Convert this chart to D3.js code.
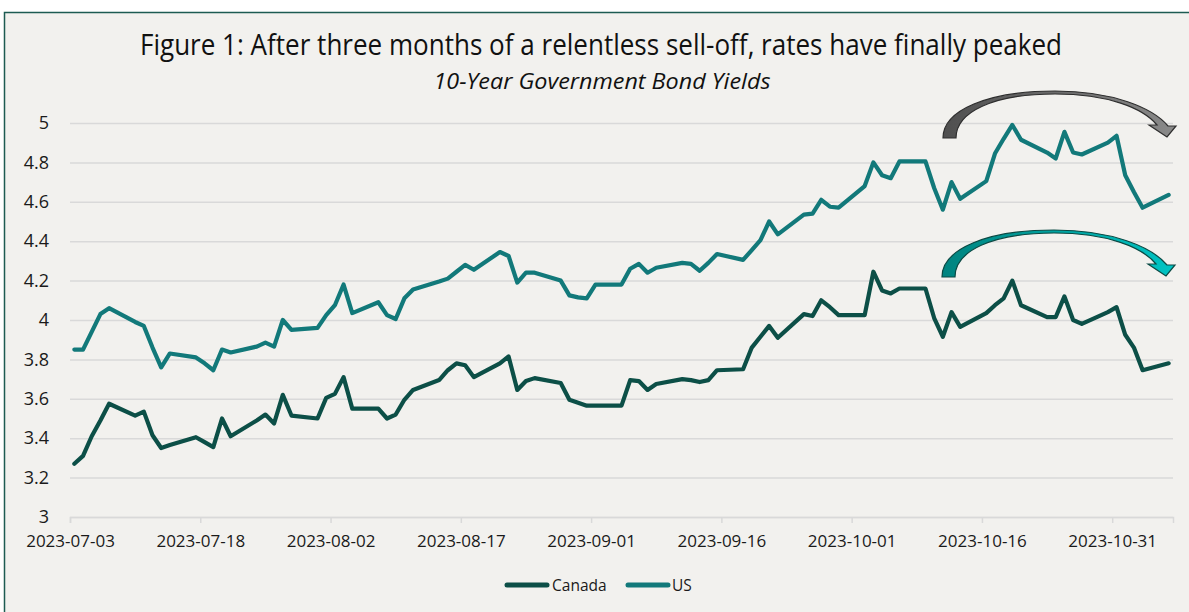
<!DOCTYPE html>
<html>
<head>
<meta charset="utf-8">
<script src="https://cdn.jsdelivr.net/npm/d3@7"></script>
<style>
  html, body { margin: 0; padding: 0; background: #ffffff; }
  svg { display: block; }
  text { font-family: "Open Sans", "Liberation Sans", sans-serif; }
</style>
</head>
<body>
<svg id="chart" width="1189" height="612"></svg>
<script>
// ---------- data ----------
const dates = [
  "2023-07-03","2023-07-04","2023-07-05","2023-07-06","2023-07-07",
  "2023-07-10","2023-07-11","2023-07-12","2023-07-13","2023-07-14",
  "2023-07-17","2023-07-18","2023-07-19","2023-07-20","2023-07-21",
  "2023-07-24","2023-07-25","2023-07-26","2023-07-27","2023-07-28",
  "2023-07-31","2023-08-01","2023-08-02","2023-08-03","2023-08-04",
  "2023-08-07","2023-08-08","2023-08-09","2023-08-10","2023-08-11",
  "2023-08-14","2023-08-15","2023-08-16","2023-08-17","2023-08-18",
  "2023-08-21","2023-08-22","2023-08-23","2023-08-24","2023-08-25",
  "2023-08-28","2023-08-29","2023-08-30","2023-08-31","2023-09-01",
  "2023-09-04","2023-09-05","2023-09-06","2023-09-07","2023-09-08",
  "2023-09-11","2023-09-12","2023-09-13","2023-09-14","2023-09-15",
  "2023-09-18","2023-09-19","2023-09-20","2023-09-21","2023-09-22",
  "2023-09-25","2023-09-26","2023-09-27","2023-09-28","2023-09-29",
  "2023-10-02","2023-10-03","2023-10-04","2023-10-05","2023-10-06",
  "2023-10-09","2023-10-10","2023-10-11","2023-10-12","2023-10-13",
  "2023-10-16","2023-10-17","2023-10-18","2023-10-19","2023-10-20",
  "2023-10-23","2023-10-24","2023-10-25","2023-10-26","2023-10-27",
  "2023-10-30","2023-10-31","2023-11-01","2023-11-02","2023-11-03",
  "2023-11-06"
];
const canada = [
  3.27, 3.31, 3.41, 3.49, 3.575,
  3.515, 3.535, 3.415, 3.35, 3.365,
  3.405, 3.38, 3.355, 3.50, 3.41,
  3.49, 3.52, 3.475, 3.62, 3.515,
  3.50, 3.605, 3.625, 3.71, 3.55,
  3.55, 3.50, 3.52, 3.595, 3.645,
  3.695, 3.745, 3.78, 3.77, 3.71,
  3.78, 3.815, 3.645, 3.69, 3.705,
  3.68, 3.595, 3.58, 3.565, 3.565,
  3.565, 3.695, 3.69, 3.645, 3.675,
  3.70, 3.695, 3.685, 3.695, 3.745,
  3.75, 3.86, 3.915, 3.97, 3.91,
  4.03, 4.02, 4.10, 4.065, 4.025,
  4.025, 4.245, 4.15, 4.135, 4.16,
  4.16, 4.01, 3.915, 4.04, 3.965,
  4.035, 4.075, 4.11, 4.20, 4.075,
  4.015, 4.015, 4.12, 4.00, 3.98,
  4.04, 4.065, 3.925, 3.86, 3.745,
  3.78
];
const us = [
  3.85, 3.85, 3.94, 4.03, 4.06,
  3.99, 3.97, 3.86, 3.76, 3.83,
  3.81, 3.78, 3.745, 3.85, 3.835,
  3.865, 3.885, 3.865, 4.00, 3.95,
  3.96, 4.025, 4.075, 4.18, 4.035,
  4.09, 4.025, 4.005, 4.11, 4.155,
  4.195, 4.21, 4.245, 4.28, 4.255,
  4.345, 4.325, 4.19, 4.24, 4.24,
  4.20, 4.125, 4.115, 4.11, 4.18,
  4.18, 4.26, 4.285, 4.24, 4.265,
  4.29, 4.285, 4.25, 4.29, 4.335,
  4.305, 4.355, 4.405, 4.50, 4.435,
  4.535, 4.54, 4.61, 4.575, 4.57,
  4.68, 4.80, 4.735, 4.72, 4.805,
  4.805, 4.67, 4.56, 4.70, 4.615,
  4.705, 4.845, 4.92, 4.99, 4.915,
  4.85, 4.82, 4.955, 4.85, 4.84,
  4.90, 4.935, 4.735, 4.65, 4.57,
  4.635
];
const xTickLabels = ["2023-07-03","2023-07-18","2023-08-02","2023-08-17","2023-09-01","2023-09-16","2023-10-01","2023-10-16","2023-10-31"];
const yTicks = [3, 3.2, 3.4, 3.6, 3.8, 4, 4.2, 4.4, 4.6, 4.8, 5];
const seriesNames = ["Canada", "US"];
const seriesColors = ["#0c4f47", "#12797a"];
const titleText = "Figure 1: After three months of a relentless sell-off, rates have finally peaked";
const subtitleText = "10-Year Government Bond Yields";

// ---------- layout ----------
const svg = d3.select("#chart");
const parse = d3.utcParse("%Y-%m-%d");
const fmt = d3.utcFormat("%Y-%m-%d");
const plotL = 70, plotR = 1173, plotT = 123, plotB = 517;

// frame
svg.append("rect").attr("x", 0).attr("y", 0).attr("width", 1189).attr("height", 612).attr("fill", "#ffffff");
svg.append("rect").attr("x", 4.5).attr("y", 12.5).attr("width", 1200).attr("height", 700)
  .attr("fill", "#f2f1ee").attr("stroke", "#1d5b52").attr("stroke-width", 1.5);

// scales: Excel date axis with points between tick marks (slot centres)
const x = d3.scaleUtc()
  .domain([parse("2023-07-03"), d3.utcDay.offset(parse(dates[dates.length - 1]), 1)])
  .range([plotL, plotR]);
const y = d3.scaleLinear().domain([3, 5]).range([plotB, plotT]);
const px = s => x(d3.utcHour.offset(parse(s), 12));

// gridlines / y axis
const yAxis = d3.axisLeft(y).tickValues(yTicks).tickSize(-(plotR - plotL)).tickPadding(21)
  .tickFormat(d3.format("~g"));
const gy = svg.append("g").attr("transform", `translate(${plotL},0)`).call(yAxis);
gy.select(".domain").remove();
gy.selectAll(".tick line").attr("stroke", "#d9d9d9").attr("stroke-width", 1.5);
gy.selectAll(".tick text").attr("fill", "#1a1a1a").style("font-size", "18px");

// x axis
const xAxis = d3.axisBottom(x).tickValues(xTickLabels.map(parse)).tickFormat(fmt)
  .tickSize(6).tickPadding(12);
const gx = svg.append("g").attr("transform", `translate(0,${plotB})`).call(xAxis);
gx.select(".domain").attr("stroke", "#d9d9d9").attr("stroke-width", 1.5);
gx.selectAll(".tick line").attr("stroke", "#d9d9d9").attr("stroke-width", 1.5);
gx.selectAll(".tick text").attr("fill", "#1a1a1a").style("font-size", "17px");

// lines
const line = d3.line().x(d => px(d.date)).y(d => y(d.v));
[canada, us].forEach((vals, i) => {
  const pts = dates.map((d, j) => ({ date: d, v: vals[j] }));
  svg.append("path").datum(pts).attr("d", line)
    .attr("fill", "none").attr("stroke", seriesColors[i]).attr("stroke-width", 4.2)
    .attr("stroke-linejoin", "round").attr("stroke-linecap", "round");
});

// curved arrows
const defs = svg.append("defs");
function grad(id, c1, c2) {
  const g = defs.append("linearGradient").attr("id", id).attr("x1", "0%").attr("x2", "100%").attr("y1", "0%").attr("y2", "0%");
  g.append("stop").attr("offset", "0%").attr("stop-color", c1);
  g.append("stop").attr("offset", "100%").attr("stop-color", c2);
}
grad("gGray", "#4f4f4f", "#8a8a8a");
grad("gTeal", "#00837f", "#00c4c4");
const arrowPath = "M0,0 C0,-28 45,-47 112,-47 C170,-47 210,-30 225,-12 L233,-12 L224,-1 L206,-13 L214,-13 C200,-30 165,-44 112,-44 C50,-44 13,-26 13,0 Z";
svg.append("path").attr("d", arrowPath).attr("transform", "translate(943,138)")
  .attr("fill", "url(#gGray)").attr("stroke", "#2e2e2e").attr("stroke-width", 1.2);
svg.append("path").attr("d", arrowPath).attr("transform", "translate(942,277)")
  .attr("fill", "url(#gTeal)").attr("stroke", "#0b4a44").attr("stroke-width", 1.2);

// titles
svg.append("text").attr("x", 601).attr("y", 55).attr("text-anchor", "middle")
  .attr("textLength", 922).attr("lengthAdjust", "spacingAndGlyphs")
  .style("font-size", "29px").attr("fill", "#111").text(titleText);
svg.append("text").attr("x", 602).attr("y", 89).attr("text-anchor", "middle")
  .attr("textLength", 337).attr("lengthAdjust", "spacingAndGlyphs")
  .style("font-size", "21px").style("font-style", "italic").attr("fill", "#111").text(subtitleText);

// legend
const legendItems = [{ x: 507, tx: 552 }, { x: 628, tx: 672 }];
seriesNames.forEach((n, i) => {
  const g = svg.append("g");
  g.append("line").attr("x1", legendItems[i].x).attr("x2", legendItems[i].x + 40)
    .attr("y1", 585).attr("y2", 585).attr("stroke", seriesColors[i]).attr("stroke-width", 5).attr("stroke-linecap", "round");
  g.append("text").attr("x", legendItems[i].tx).attr("y", 590.5).style("font-size", "15.5px").attr("fill", "#1a1a1a").text(n);
});
</script>
</body>
</html>
